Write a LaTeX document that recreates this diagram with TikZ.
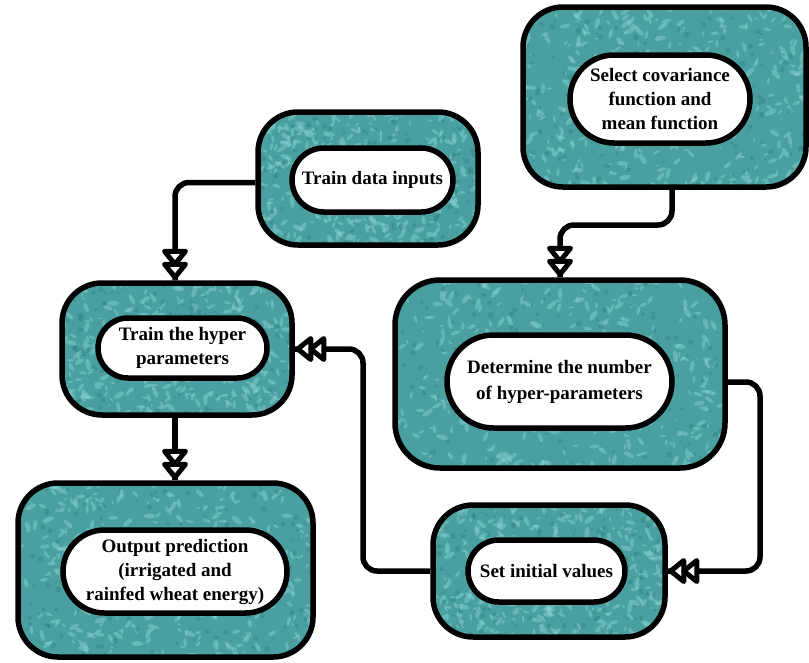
\documentclass[tikz,border=0pt]{standalone}
\usepackage{fontspec}
\setmainfont{Liberation Serif}
\usetikzlibrary{shapes.misc,calc}
\definecolor{tealbase}{RGB}{74,160,160}
\definecolor{teallt}{RGB}{140,212,212}
\definecolor{tealdk}{RGB}{40,120,124}
\tikzset{
  outerbox/.style={draw=black, line width=5.5pt, fill=tealbase, rounded corners=40pt, inner sep=0pt},
  pill/.style={draw=black, line width=5.5pt, fill=white, rounded rectangle, inner sep=0pt,
    font=\fontsize{19}{24}\selectfont\bfseries, align=center},
  conn/.style={draw=black, line width=5.5pt, rounded corners=14pt},
  tri/.style={draw=black, fill=white, line width=5pt, line join=round},
  dtri/.pic={
    \path[tri] (-3,0) -- (-16,10.5) -- (-16,-10.5) -- cycle;
    \path[tri] (-16,0) -- (-29,10.5) -- (-29,-10.5) -- cycle;
  },
  tex/.style n args={2}{path picture={
    \foreach \k in {1,...,340}{
      \pgfmathsetmacro\px{-#1/2+rnd*#1}
      \pgfmathsetmacro\py{-#2/2+rnd*#2}
      \pgfmathsetmacro\pr{1+rnd*2.5}
      \pgfmathsetmacro\pa{rnd*180}
      \fill[teallt, opacity=.45] (\px pt,\py pt) ellipse [x radius=\pr*1.8pt, y radius=\pr*0.7pt, rotate=\pa];
    }
    \foreach \k in {1,...,170}{
      \pgfmathsetmacro\px{-#1/2+rnd*#1}
      \pgfmathsetmacro\py{-#2/2+rnd*#2}
      \pgfmathsetmacro\pr{1+rnd*2}
      \fill[tealdk, opacity=.35] (\px pt,\py pt) circle [radius=\pr pt];
    }
  }}
}
\begin{document}
\begin{tikzpicture}[x=1pt,y=-1pt]
\pgfmathsetseed{7}
\useasboundingbox (0,0) rectangle (809,662);

% outer boxes
\node[outerbox, minimum width=220pt, minimum height=133pt, tex={220}{133}] (TD) at (368,178.5) {};
\node[outerbox, minimum width=283pt, minimum height=180pt, tex={283}{180}] (SC) at (664.5,97) {};
\node[outerbox, minimum width=230pt, minimum height=132pt, tex={230}{132}] (TH) at (177,349) {};
\node[outerbox, minimum width=330pt, minimum height=188pt, rounded corners=45pt, tex={330}{188}] (DN) at (560,374) {};
\node[outerbox, minimum width=295pt, minimum height=174pt, tex={295}{174}] (OP) at (165.5,570) {};
\node[outerbox, minimum width=232pt, minimum height=132pt, tex={232}{132}] (SI) at (549,571) {};

% inner pills
\node[pill, minimum width=161pt, minimum height=64pt] (TDi) at (372.5,180) {Train data inputs};
\node[pill, minimum width=180pt, minimum height=88pt] (SCi) at (660,99) {Select covariance\\function and\\mean function};
\node[pill, minimum width=169pt, minimum height=60pt] (THi) at (182.5,348) {Train the hyper\\parameters};
\node[pill, minimum width=225pt, minimum height=93pt, font=\fontsize{19}{26}\selectfont\bfseries] (DNi) at (559.5,381.5) {Determine the number\\of hyper-parameters};
\node[pill, minimum width=224pt, minimum height=83pt] (OPi) at (175,571.5) {Output prediction\\(irrigated and\\rainfed wheat energy)};
\node[pill, minimum width=157pt, minimum height=62pt] (SIi) at (546.5,571) {Set initial values};

% connector helper coordinates
\coordinate (c1) at (672,225);
\coordinate (c2) at (760,571);
\coordinate (c3) at (363,349);

% connectors
\draw[conn] ([yshift=-4pt]TD.west) -| ([xshift=-2pt]TH.north);
\draw[conn] (SC.south -| c1) -- (c1) -| (DN.north);
\draw[conn] ([xshift=-2pt]TH.south) -- ([xshift=-2pt]TH.south |- OP.north);
\draw[conn] ([yshift=-8pt]DN.east) -| (c2) -- (SI.east);
\draw[conn] (SI.west) -| (c3) -- (TH.east);

% double open arrowheads
\pic[rotate=-90] at ([xshift=-2pt]TH.north) {dtri};
\pic[rotate=-90] at (DN.north) {dtri};
\pic[rotate=-90] at ([xshift=-2pt]TH.south |- OP.north) {dtri};
\pic[rotate=180] at (SI.east) {dtri};
\pic[rotate=180] at (TH.east) {dtri};
\end{tikzpicture}
\end{document}
